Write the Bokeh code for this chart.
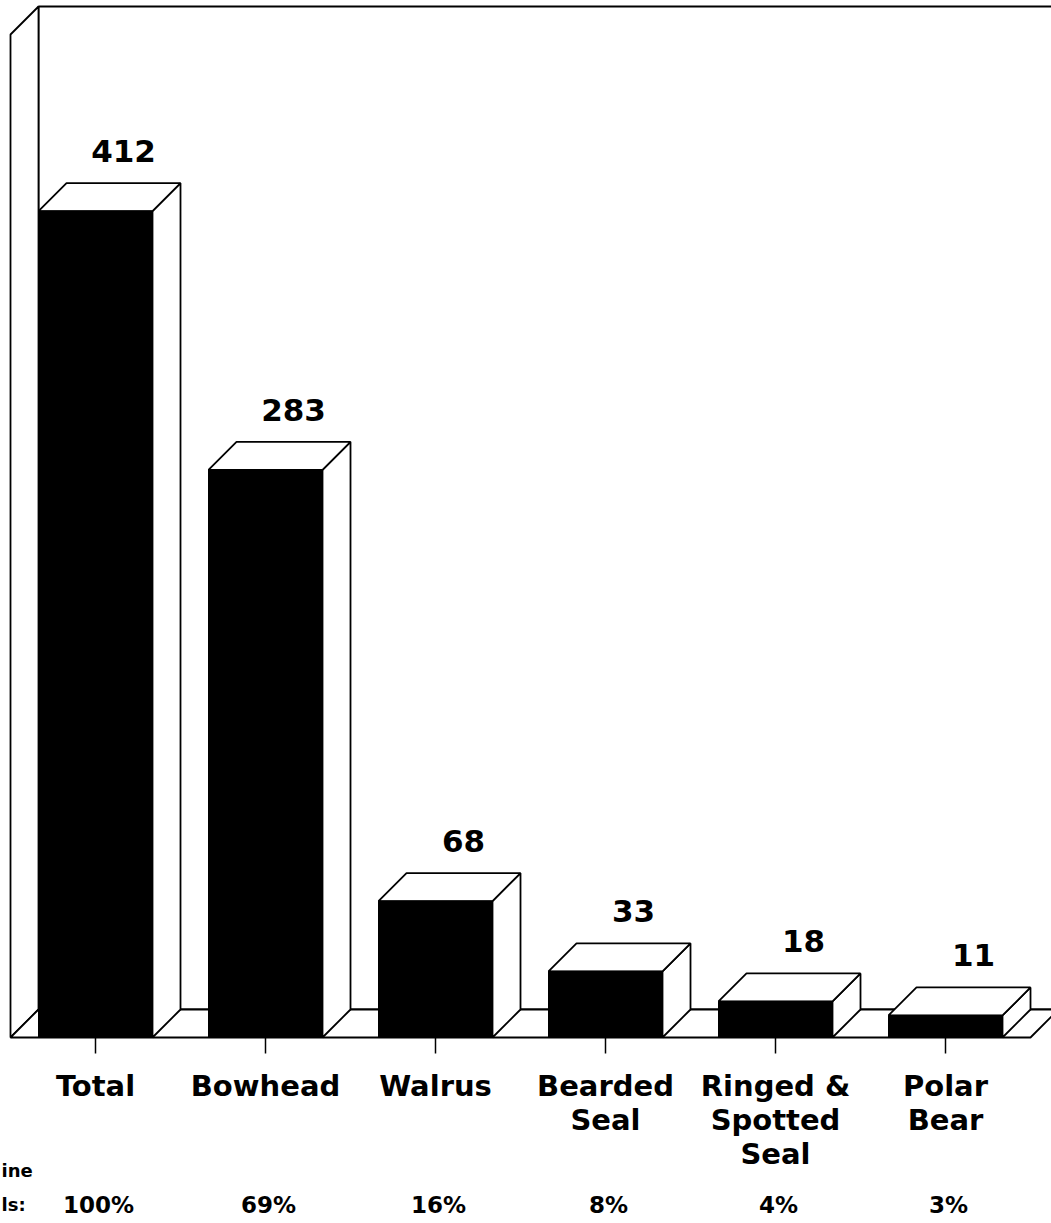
from bokeh.plotting import figure
from bokeh.models import Range1d
from bokeh.embed import file_html
from bokeh.resources import INLINE
from bokeh.core.properties import value

# ---- data ----
categories = ["Total", "Bowhead", "Walrus", "Bearded\nSeal", "Ringed &\nSpotted\nSeal", "Polar\nBear"]
counts = [412, 283, 68, 33, 18, 11]
count_labels = ["412", "283", "68", "33", "18", "11"]
percents = ["100%", "69%", "16%", "8%", "4%", "3%"]
row_labels = ["ine", "ls:"]
value_max = 500

# ---- layout (pixels) ----
W, H = 1051, 1223
BASE_PX = 1037         # pixel row of the floor front edge (value 0)
TOP_PX = 34            # pixel row of value_max at the front
X0_PX = 95             # pixel column of first category
STEP_PX = 170          # pixel spacing of categories
BAR_HALF_PX = 57
DEPTH_PX = 28

K = (BASE_PX - TOP_PX) / value_max          # px per value unit
xr = Range1d(-X0_PX / STEP_PX, (W - X0_PX) / STEP_PX)
yr = Range1d(-(H - BASE_PX) / K, BASE_PX / K)

dx = DEPTH_PX / STEP_PX
dy = DEPTH_PX / K
hw = BAR_HALF_PX / STEP_PX
n = len(categories)

p = figure(width=W, height=H, x_range=xr, y_range=yr, output_backend="svg",
           toolbar_location=None, min_border=0, outline_line_color=None,
           background_fill_color="white", border_fill_color="white")
p.axis.visible = False
p.grid.visible = False

LW = 1.8
left = -0.5
right = n - 0.5

# back wall (top edge runs off to the right)
p.patch([left + dx, xr.end + 1, xr.end + 1, left + dx],
        [value_max + dy, value_max + dy, dy, dy],
        fill_color="white", line_color="black", line_width=LW)
# left side wall
p.patch([left, left, left + dx, left + dx],
        [0, value_max, value_max + dy, dy],
        fill_color="white", line_color="black", line_width=LW)
# floor
p.patch([left, right, right + dx, left + dx],
        [0, 0, dy, dy],
        fill_color="white", line_color="black", line_width=LW)

# bars
for i, v in enumerate(counts):
    x0, x1 = i - hw, i + hw
    # side face
    p.patch([x1, x1 + dx, x1 + dx, x1], [0, dy, v + dy, v],
            fill_color="white", line_color="black", line_width=LW)
    # top face
    p.patch([x0, x1, x1 + dx, x0 + dx], [v, v, v + dy, v + dy],
            fill_color="white", line_color="black", line_width=LW)
    # front face
    p.quad(left=[x0], right=[x1], bottom=[0], top=[v],
           fill_color="black", line_color="black", line_width=1)

FONT = value("DejaVu Sans")
SHIFT = -12  # baseline correction

# value labels
p.text(x=[i + dx for i in range(n)], y=[v + dy for v in counts], text=count_labels,
       text_align="center", text_baseline="alphabetic", y_offset=-18 + SHIFT - 2,
       text_font=FONT, text_font_style="bold", text_font_size="31px", text_color="black")

# ticks
tick_len = 16 / K
p.segment(x0=list(range(n)), y0=[0] * n, x1=list(range(n)), y1=[-tick_len] * n,
          line_color="black", line_width=1.5)

# category labels (multi-line)
LINE_GAP = 34
for i, c in enumerate(categories):
    for j, line in enumerate(c.split("\n")):
        p.text(x=[i], y=[0], text=[line], text_align="center", text_baseline="alphabetic",
               y_offset=60 + LINE_GAP * j + SHIFT, text_font=FONT,
               text_font_style="bold", text_font_size="29px", text_color="black")

# percent row
p.text(x=list(range(n)), y=[0] * n, text=percents, text_align="center",
       text_baseline="alphabetic", x_offset=3, y_offset=179 + SHIFT,
       text_font=FONT, text_font_style="bold", text_font_size="23px",
       text_color="black")

# truncated row captions at the left edge
p.text(x=[xr.start, xr.start], y=[0, 0], text=row_labels, text_align="left",
       text_baseline="alphabetic", x_offset=1, y_offset=[145 + SHIFT, 179 + SHIFT],
       text_font=FONT, text_font_style="bold", text_font_size="18px",
       text_color="black")

open("out.html", "w").write(file_html(p, INLINE))
